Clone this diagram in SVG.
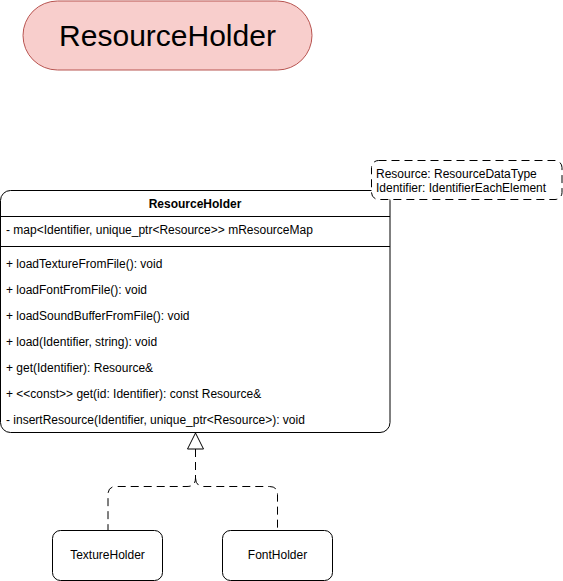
<svg xmlns="http://www.w3.org/2000/svg" width="563" height="581" viewBox="0 0 563 581">
<style>
text{font-family:"Liberation Sans",Arial,sans-serif;fill:#000}
.m{font-size:12px}
.box{fill:#fff;stroke:#000;stroke-width:1}
.dash{fill:none;stroke:#000;stroke-width:1;stroke-dasharray:8 5}
</style>
<rect width="563" height="581" fill="#fff"/>
<g id="title">
<rect x="23" y="1" width="289" height="69" rx="34.5" fill="#f8cecc" stroke="#b85450"/>
<text x="167.5" y="46" font-size="30" text-anchor="middle">ResourceHolder</text>
</g>
<g id="resourceholder">
<rect class="box" x="0.5" y="190.5" width="389.5" height="242" rx="10"/>
<line x1="0.5" y1="216.5" x2="390" y2="216.5" stroke="#000"/>
<line x1="0.5" y1="246.5" x2="390" y2="246.5" stroke="#000"/>
<text x="195" y="208" font-size="12" font-weight="bold" text-anchor="middle">ResourceHolder</text>
<text class="m" x="6" y="234">- map&lt;Identifier, unique_ptr&lt;Resource&gt;&gt; mResourceMap</text>
<text class="m" x="6" y="268">+ loadTextureFromFile(): void</text>
<text class="m" x="6" y="294">+ loadFontFromFile(): void</text>
<text class="m" x="6" y="320">+ loadSoundBufferFromFile(): void</text>
<text class="m" x="6" y="346">+ load(Identifier, string): void</text>
<text class="m" x="6" y="372">+ get(Identifier): Resource&amp;</text>
<text class="m" x="6" y="398">+ &lt;&lt;const&gt;&gt; get(id: Identifier): const Resource&amp;</text>
<text class="m" x="6" y="424">- insertResource(Identifier, unique_ptr&lt;Resource&gt;): void</text>
</g>
<g id="template">
<rect x="371.5" y="160.5" width="190.5" height="39" rx="7" fill="#fff" stroke="#000" stroke-dasharray="8 5"/>
<text class="m" x="376" y="178">Resource: ResourceDataType</text>
<text class="m" x="376" y="192">Identifier: IdentifierEachElement</text>
</g>
<g id="textureholder">
<rect class="box" x="52.5" y="530.5" width="110" height="50" rx="8"/>
<text x="107.5" y="559" font-size="12" text-anchor="middle">TextureHolder</text>
</g>
<g id="fontholder">
<rect class="box" x="222.5" y="530.5" width="110" height="50" rx="8"/>
<text x="277.5" y="559" font-size="12" text-anchor="middle">FontHolder</text>
</g>
<g id="connectors">
<path class="dash" d="M195.5 449 V478 Q195.5 486.5 187 486.5 H116 Q108 486.5 108 494.5 V530"/>
<path class="dash" d="M195.5 478 Q195.5 486.5 204 486.5 H269.5 Q277.5 486.5 277.5 494.5 V530"/>
<polygon points="195.5,433 187.5,449 203.5,449" fill="#fff" stroke="#000"/>
</g>
</svg>
